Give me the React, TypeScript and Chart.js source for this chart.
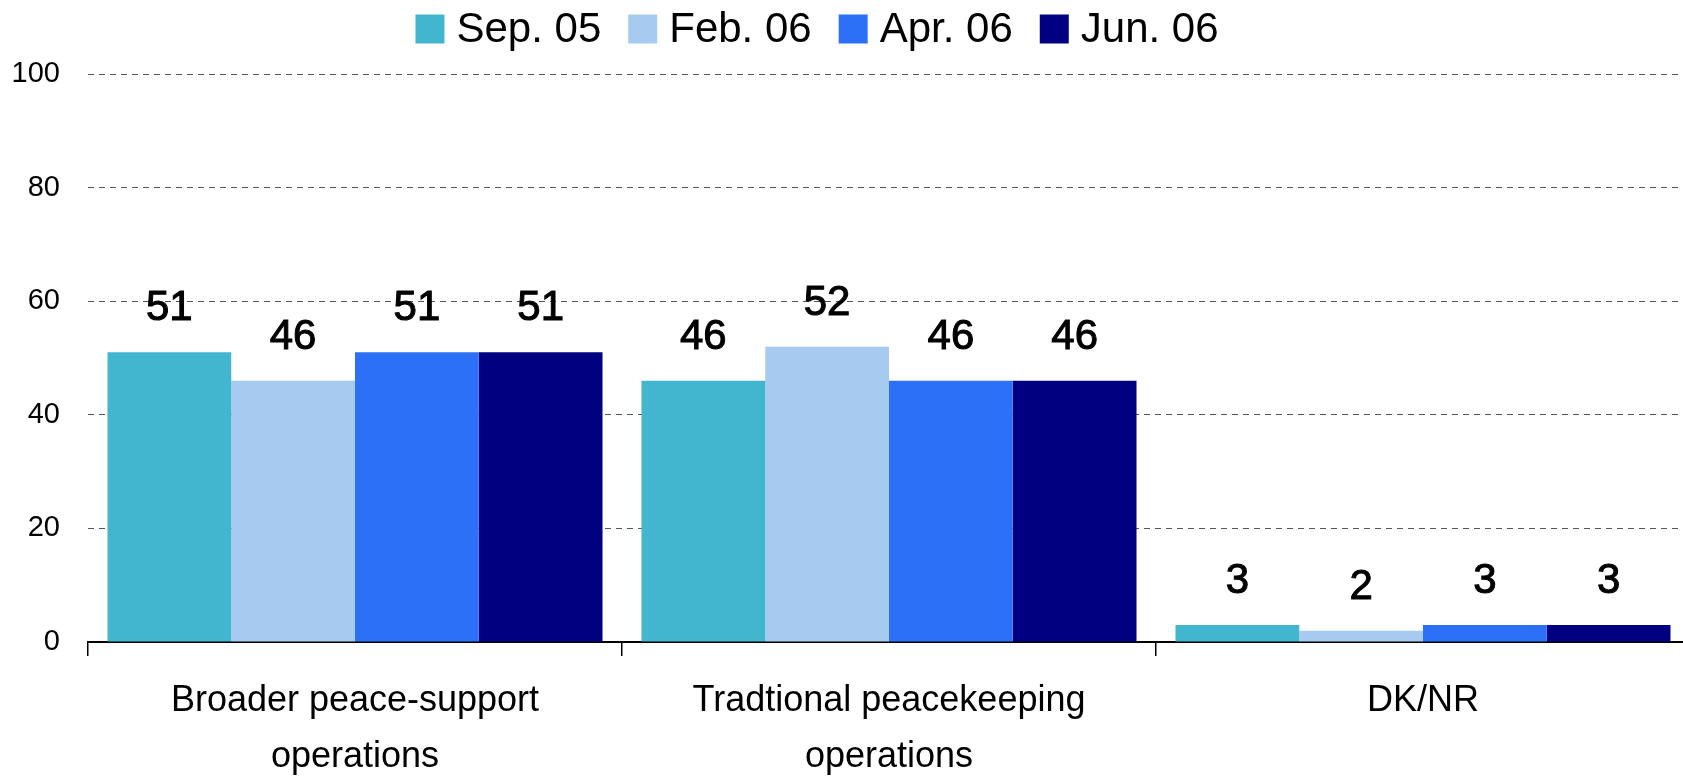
import React, { useEffect, useRef } from "react";
import { Chart, registerables } from "chart.js";

Chart.register(...registerables);

const categories: (string | string[])[] = [
  ["Broader peace-support", "operations"],
  ["Tradtional peacekeeping", "operations"],
  "DK/NR",
];
const seriesNames = ["Sep. 05", "Feb. 06", "Apr. 06", "Jun. 06"];
const sep05 = [51, 46, 3];
const feb06 = [46, 52, 2];
const apr06 = [51, 46, 3];
const jun06 = [51, 46, 3];
const seriesColors = ["#41B6CE", "#A7CAF0", "#2C70F8", "#000080"];
const yTicks = [0, 20, 40, 60, 80, 100];

const FONT = "'Liberation Sans', Arial, Helvetica, sans-serif";

const legendPlugin = {
  id: "customLegend",
  afterDraw(chart: any) {
    const ctx = chart.ctx;
    const box = 29;
    const gapText = 12;
    const gapItem = 27;
    ctx.save();
    ctx.font = `42px ${FONT}`;
    const items = chart.data.datasets.map((ds: any) => ({
      label: ds.label,
      color: ds.backgroundColor,
      w: ctx.measureText(ds.label).width,
    }));
    const total =
      items.reduce((s: number, it: any) => s + box + gapText + it.w, 0) +
      gapItem * (items.length - 1);
    let x = 817 - total / 2;
    const cy = 29;
    ctx.textBaseline = "middle";
    ctx.textAlign = "left";
    items.forEach((it: any) => {
      ctx.fillStyle = it.color;
      ctx.fillRect(x, cy - box / 2, box, box);
      ctx.fillStyle = "#000";
      ctx.fillText(it.label, x + box + gapText, cy + 1);
      x += box + gapText + it.w + gapItem;
    });
    ctx.restore();
  },
};

const valueLabelPlugin = {
  id: "valueLabels",
  afterDatasetsDraw(chart: any) {
    const ctx = chart.ctx;
    ctx.save();
    ctx.font = `42px ${FONT}`;
    ctx.textAlign = "center";
    ctx.textBaseline = "alphabetic";
    ctx.fillStyle = "#000";
    ctx.strokeStyle = "#000";
    ctx.lineWidth = 1;
    chart.data.datasets.forEach((ds: any, i: number) => {
      const meta = chart.getDatasetMeta(i);
      meta.data.forEach((el: any, j: number) => {
        const txt = String(ds.data[j]);
        ctx.fillText(txt, el.x, el.y - 32);
        ctx.strokeText(txt, el.x, el.y - 32);
      });
    });
    ctx.restore();
  },
};

export default function App() {
  const ref = useRef<HTMLCanvasElement | null>(null);
  useEffect(() => {
    if (!ref.current) return;
    const seriesData = [sep05, feb06, apr06, jun06];
    const chart = new Chart(ref.current, {
      type: "bar",
      data: {
        labels: categories,
        datasets: seriesNames.map((name, i) => ({
          label: name,
          data: seriesData[i],
          backgroundColor: seriesColors[i],
          borderWidth: 0,
          categoryPercentage: 0.927,
          barPercentage: 1.0,
        })),
      },
      options: {
        responsive: false,
        animation: false,
        layout: { padding: { top: 74, left: 0, right: 0, bottom: 0 } },
        plugins: {
          legend: { display: false },
          tooltip: { enabled: false },
          title: { display: false },
        },
        scales: {
          x: {
            grid: {
              offset: true,
              drawOnChartArea: false,
              drawTicks: true,
              tickLength: 14,
              color: "#000",
              lineWidth: 1.5,
            },
            border: { display: true, color: "#000", width: 2 },
            ticks: {
              color: "#000",
              font: { family: FONT, size: 36, lineHeight: 1.55 },
              padding: 17,
              maxRotation: 0,
              autoSkip: false,
            },
            afterFit(scale: any) {
              scale.height = 139;
            },
          },
          y: {
            min: 0,
            max: 100,
            afterBuildTicks(scale: any) {
              scale.ticks = yTicks.map((v) => ({ value: v }));
            },
            grid: {
              drawTicks: false,
              color: (c: any) =>
                c.tick && c.tick.value === 0 ? "rgba(0,0,0,0)" : "#555",
              lineWidth: 1,
            },
            border: { display: false, dash: [6, 5] },
            ticks: {
              color: "#000",
              font: { family: FONT, size: 29 },
              padding: 28,
            },
            afterFit(scale: any) {
              scale.width = 88;
            },
          },
        },
      },
      plugins: [legendPlugin, valueLabelPlugin],
    } as any);
    return () => chart.destroy();
  }, []);

  return (
    <div
      style={{
        position: "absolute",
        left: 0,
        top: 0,
        width: 1683,
        height: 781,
        overflow: "hidden",
        background: "#fff",
      }}
    >
      <canvas ref={ref} width={1690} height={781} style={{ display: "block" }} />
    </div>
  );
}
